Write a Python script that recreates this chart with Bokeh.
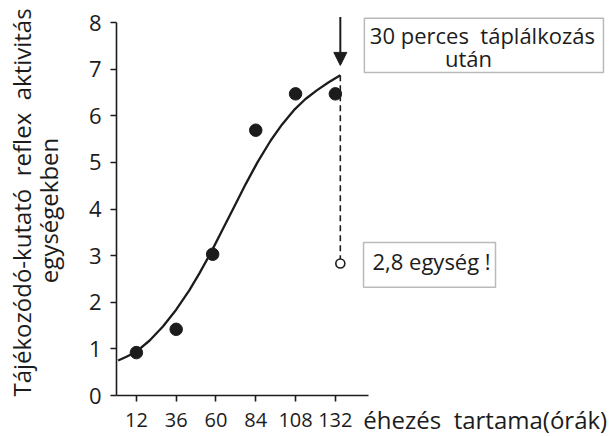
import math
from bokeh.plotting import figure
from bokeh.models import Range1d, FixedTicker, Label, Arrow, NormalHead, BoxAnnotation
from bokeh.embed import file_html
from bokeh.resources import INLINE

# ---- data ----
hours = [12, 36, 58, 84, 108, 132]
activity = [0.92, 1.42, 3.03, 5.69, 6.47, 6.47]

curve_hours = [1, 6, 12, 20, 28, 36, 44, 50, 57, 64, 71, 78, 85, 93, 100, 107, 114, 121, 128, 135]
curve_activity = [0.75, 0.83, 0.94, 1.18, 1.48, 1.84, 2.26, 2.62, 3.07, 3.56, 4.05, 4.54, 5.0, 5.47,
                  5.82, 6.12, 6.36, 6.55, 6.72, 6.87]

after_hour = 135
after_value = 2.83
curve_end_value = 6.87

x_ticks = [12, 36, 60, 84, 108, 132]
y_ticks = [0, 1, 2, 3, 4, 5, 6, 7, 8]

y_title_1 = "Tájékozódó-kutató\u00a0 reflex\u00a0 aktivitás"
y_title_2 = "egységekben"
x_title = "éhezés\u00a0 tartama(órák)"
note_top_1 = "30 perces\u00a0 táplálkozás"
note_top_2 = "után"
note_bottom = "2,8 egység !"

FONT = "Open Sans"
INK = "#1c1c1c"

p = figure(width=612, height=436, output_backend="svg", toolbar_location=None,
           x_range=Range1d(-69.96, 299.16), y_range=Range1d(-0.879, 8.472),
           min_border_left=0, min_border_right=0, min_border_top=0, min_border_bottom=0)
p.grid.visible = False
p.outline_line_color = None
p.background_fill_color = "white"
p.border_fill_color = "white"

# axes (drawn at x = 0 and y = 0)
for ax in (p.xaxis, p.yaxis):
    ax.fixed_location = 0
    ax.axis_line_color = INK
    ax.axis_line_width = 1.6
    ax.major_tick_line_color = INK
    ax.major_tick_line_width = 1.6
    ax.major_tick_in = 0
    ax.major_tick_out = 6
    ax.minor_tick_in = 0
    ax.minor_tick_out = 0
    ax.major_label_text_font = FONT
    ax.major_label_text_color = INK

p.xaxis.bounds = (0, 152)
p.xaxis.ticker = FixedTicker(ticks=x_ticks)
p.xaxis.major_label_text_font_size = "20px"
p.xaxis.major_label_standoff = 11

p.yaxis.bounds = (0, 8)
p.yaxis.ticker = FixedTicker(ticks=y_ticks)
p.yaxis.major_label_text_font_size = "22px"
p.yaxis.major_label_standoff = 9

# fitted curve and measured points
p.line(curve_hours, curve_activity, line_width=2.3, color=INK)
p.scatter(hours, activity, size=12.5, color=INK)

# after feeding
p.segment(x0=[after_hour], y0=[curve_end_value], x1=[after_hour], y1=[after_value],
          line_dash="6 4", line_width=1.6, color=INK)
p.scatter([after_hour], [after_value], size=9, fill_color="white", line_color=INK, line_width=1.6)

p.add_layout(Arrow(end=NormalHead(size=13, fill_color=INK, line_color=INK),
                   x_start=after_hour, y_start=8.12, x_end=after_hour, y_end=7.08,
                   line_width=2, line_color=INK))

# note boxes
p.add_layout(BoxAnnotation(left=149.5, right=293.7, top=8.09, bottom=6.93,
                           fill_alpha=0, line_color=INK, line_width=1.5))
p.add_layout(BoxAnnotation(left=149.0, right=228.6, top=3.28, bottom=2.32,
                           fill_alpha=0, line_color=INK, line_width=1.5))

p.add_layout(Label(x=220.7, y=7.732, text=note_top_1, text_align="center", text_baseline="middle",
                   text_font=FONT, text_font_size="22px", text_color=INK))
p.add_layout(Label(x=212.3, y=7.24, text=note_top_2, text_align="center", text_baseline="middle",
                   text_font=FONT, text_font_size="22px", text_color=INK))
p.add_layout(Label(x=154.4, y=2.895, text=note_bottom, text_align="left", text_baseline="middle",
                   text_font=FONT, text_font_size="22px", text_color=INK))

# axis titles
p.add_layout(Label(x=148.9, y=-0.504, text=x_title, text_align="left", text_baseline="middle",
                   text_font=FONT, text_font_size="24px", text_color=INK))
p.add_layout(Label(x=-57.0, y=4.14, text=y_title_1, angle=math.pi / 2, text_align="center",
                   text_baseline="middle", text_font=FONT, text_font_size="24px", text_color=INK))
p.add_layout(Label(x=-41.2, y=3.97, text=y_title_2, angle=math.pi / 2, text_align="center",
                   text_baseline="middle", text_font=FONT, text_font_size="24px", text_color=INK))

open("out.html", "w").write(file_html(p, INLINE))
